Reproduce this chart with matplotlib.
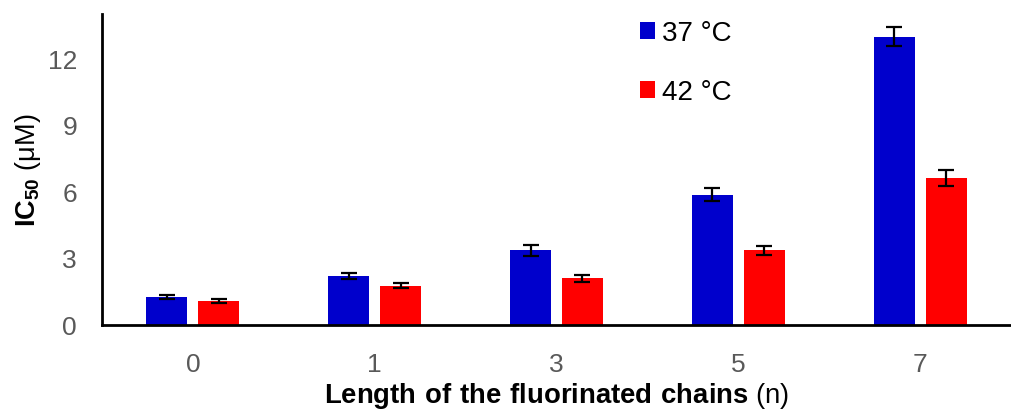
import numpy as np
import matplotlib.pyplot as plt

plt.rcParams['font.family'] = ['Liberation Sans', 'DejaVu Sans']
plt.rcParams['mathtext.fontset'] = 'custom'
plt.rcParams['mathtext.rm'] = 'Liberation Sans'
plt.rcParams['mathtext.bf'] = 'Liberation Sans:bold'

chains = ['0', '1', '3', '5', '7']
ic50_37 = [1.22, 2.20, 3.35, 5.86, 12.98]
err_37 = [0.09, 0.14, 0.24, 0.31, 0.43]
ic50_42 = [1.07, 1.75, 2.08, 3.34, 6.61]
err_42 = [0.08, 0.11, 0.16, 0.21, 0.35]

fig = plt.figure(figsize=(10.11, 4.10), dpi=100)
ax = fig.add_axes([102 / 1011, 84.5 / 410, 1 - 102 / 1011, 310.5 / 410])

x = np.arange(len(chains))
w = 0.225
off = 0.143
err_kw = dict(ecolor='black', elinewidth=1.6, capsize=6, capthick=1.6)
ax.bar(x - off, ic50_37, w, color='#0000CC', yerr=err_37, error_kw=err_kw, label='37 °C')
ax.bar(x + off, ic50_42, w, color='#FF0000', yerr=err_42, error_kw=err_kw, label='42 °C')

ax.set_xlim(-0.5, 4.5)
ax.set_ylim(0, 14)
ax.set_yticks([0, 3, 6, 9, 12])
ax.set_xticks(x)
ax.set_xticklabels(chains)
ax.tick_params(length=0, labelsize=19, labelcolor='#595959')
ax.tick_params(axis='x', pad=20)
ax.tick_params(axis='y', pad=18)

for s in ['top', 'right']:
    ax.spines[s].set_visible(False)
for s in ['left', 'bottom']:
    ax.spines[s].set_linewidth(2)
    ax.spines[s].set_color('black')

ax.set_ylabel(r'$\mathbf{IC_{50}}$ (μM)', fontsize=19.5)
ax.yaxis.set_label_coords(-0.065, 0.5)
ax.set_xlabel(r'$\mathbf{Length\ of\ the\ fluorinated\ chains}$ (n)', fontsize=19.8)
ax.xaxis.set_label_coords(0.5, -0.178)

ax.legend(loc='upper left', bbox_to_anchor=(640 / 1011, 1 - 21 / 410),
          bbox_transform=fig.transFigure, frameon=False, fontsize=20,
          handlelength=0.55, handleheight=0.55, handletextpad=0.25,
          labelspacing=1.2, borderpad=0, borderaxespad=0)

fig.savefig('out.png', dpi=100)
